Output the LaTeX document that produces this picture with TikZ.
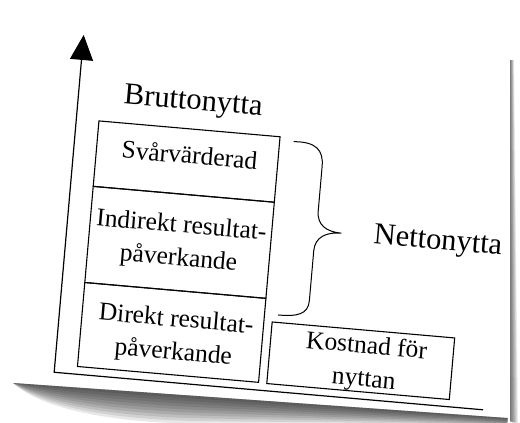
\documentclass[tikz,border=0pt]{standalone}
\usepackage{fontspec}
\setmainfont{Liberation Serif}
\usetikzlibrary{arrows.meta}
\begin{document}
\begin{tikzpicture}[x=1pt,y=-1pt,
  boxline/.style={draw=black, line width=1.1pt},
  sect/.style={boxline, rectangle, inner sep=0pt, minimum width=181.8pt},
  txt/.style={font=\fontsize{25.5}{33}\selectfont, align=center, inner sep=0pt, text=black},
  big/.style={font=\fontsize{30.5}{36}\selectfont, inner sep=0pt, text=black},
  axisline/.style={line width=1.2pt, draw=black},
  braceline/.style={line width=1pt, draw=black}]
\useasboundingbox (0,0) rectangle (520,423);
\fill[white] (0,0) rectangle (520,423);
% bottom shadow of the page
\begin{scope}[shift={(13,383)}, rotate=-4.05]
  \foreach \f in {0.1,0.2,...,1.0}{
    \fill[black, opacity=0.095] (0,0) -- (496,0) -- (496,10*\f)
      .. controls (380,13*\f) and (280,22*\f) .. (180,28*\f)
      .. controls (100,32*\f) and (30,24*\f) .. (0,0) -- cycle;
  }
\end{scope}
% right edge shadow
\foreach \f in {0.1,0.2,...,1.0}{
  \fill[black, opacity=0.07] (510,60) -- (510,421) -- (510+8*\f,423) -- (510+4*\f,60) -- cycle;
}
\begin{scope}[shift={(260,211)}, rotate=-5, transform shape]
  % axes
  \coordinate (ytip) at (-191,-160);
  \coordinate (org) at (-191,178.6);
  \coordinate (xend) at (239.5,178.6);
  \draw[axisline, {Triangle[length=25pt,width=23pt]}-] (ytip) -- (org) -- (xend);
  % stacked boxes
  \node[sect, minimum height=65.7pt] (s1) at (-77.4,-42.85) {};
  \node[sect, minimum height=96.5pt] (s2) at (-77.4,38.25) {};
  \node[sect, minimum height=84.3pt] (s3) at (-77.4,128.65) {};
  \node[sect, minimum width=183.2pt, minimum height=61.8pt] (k) at (113.4,140.4) {};
  % texts
  \node[txt] (t1) at (-75,-50) {Svårvärderad};
  \node[txt] (t2) at (-77,39) {Indirekt resultat-\\påverkande};
  \node[txt] (t3) at (-74,133) {Direkt resultat-\\påverkande};
  \node[txt] (t4) at (118,143) {Kostnad för\\nyttan};
  \node[big] (brutto) at (-76,-102) {Bruttonytta};
  \node[big] (netto) at (180,16) {Nettonytta};
  % brace
  \coordinate (bt) at (27.5,-72);
  \coordinate (bp) at (83,15);
  \coordinate (bb) at (27,102);
  \draw[braceline] (bt) .. controls (50,-74) and (58,-66) .. (58,-50) -- (58,-5)
    .. controls (58,9) and (68,15) .. (bp)
    .. controls (68,15) and (57,21) .. (57,35) -- (57,85)
    .. controls (57,99) and (46,102) .. (bb);
\end{scope}
\end{tikzpicture}
\end{document}
